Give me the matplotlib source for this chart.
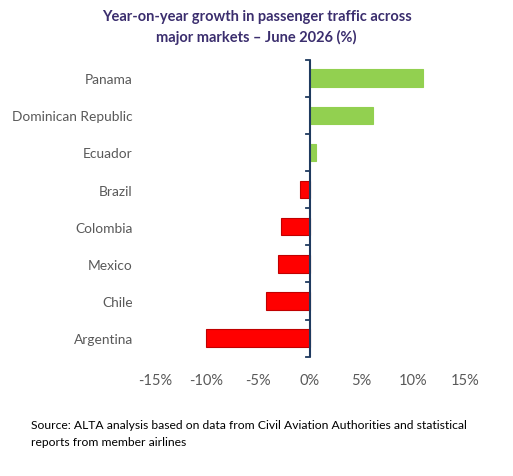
import matplotlib
matplotlib.use("Agg")
import matplotlib.pyplot as plt
import numpy as np

categories = ["Panama", "Dominican Republic", "Ecuador", "Brazil", "Colombia", "Mexico", "Chile", "Argentina"]
values = [11.0, 6.1, 0.6, -1.0, -2.8, -3.1, -4.2, -10.1]
xticks = [-15, -10, -5, 0, 5, 10, 15]

plt.rcParams['font.family'] = ['Lato', 'DejaVu Sans']
fig = plt.figure(figsize=(5.13, 4.77), dpi=100)
ax = fig.add_axes([0.302, 0.25, 0.604, 0.623])
y = np.arange(len(categories))[::-1]
colors = ['#92D050' if v >= 0 else '#FF0000' for v in values]
edges = ['#92D050' if v >= 0 else '#C00000' for v in values]
ax.barh(y, values, height=0.47, color=colors, edgecolor=edges, linewidth=0.8, zorder=2)
ax.set_xlim(-15, 15)
ax.set_ylim(-0.5, len(categories) - 0.5)
ax.set_xticks(xticks)
ax.set_xticklabels([f"{t}%" for t in xticks], fontsize=10.5, color='#595959')
ax.tick_params(axis='x', length=0, pad=12)
ax.set_yticks(y)
ax.set_yticklabels(categories, fontsize=9.9, color='#595959')
ax.tick_params(axis='y', length=0, pad=16)
for s in ['top', 'right', 'bottom', 'left']:
    ax.spines[s].set_visible(False)
ax.axvline(0, color='#1F3A5F', lw=1.5, zorder=3)
for b in np.arange(-0.5, len(categories), 1.0):
    ax.plot([-0.4, 0], [b, b], color='#1F3A5F', lw=1.3, zorder=3, clip_on=False)
fig.text(0.5, 0.978, "Year-on-year growth in passenger traffic across\nmajor markets – June 2026 (%)",
         ha='center', va='top', fontsize=10.5, fontweight='bold', color='#3B2E6E', linespacing=1.45)
fig.text(0.06, 0.12, "Source: ALTA analysis based on data from Civil Aviation Authorities and statistical\nreports from member airlines",
         ha='left', va='top', fontsize=8.7, color='black', linespacing=1.7)
fig.savefig("out.png", dpi=100)
